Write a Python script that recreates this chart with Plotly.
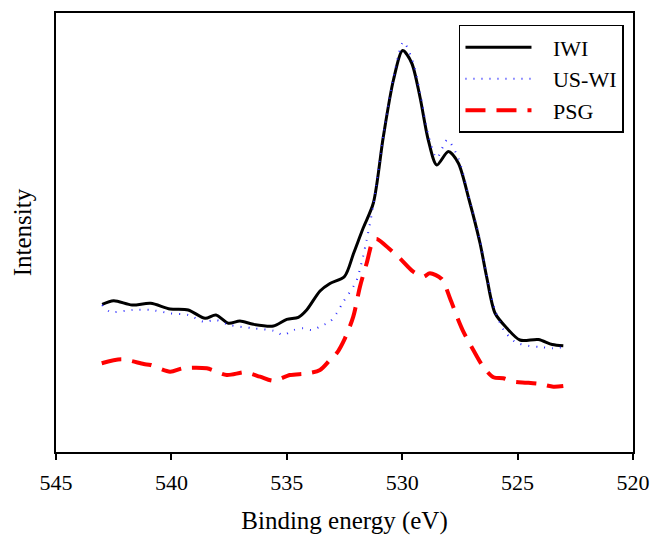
import plotly.graph_objects as go

# Binding energy (eV) and intensity (a.u.)
iwi_x = [543.0, 542.5, 541.7, 540.9, 540.06, 539.27, 538.54, 538.07, 537.53, 537.03,
         536.45, 535.58, 535.0, 534.5, 534.14, 533.56, 533.13, 532.5, 532.1, 531.69,
         531.25, 530.82, 530.38, 529.98, 529.59, 529.23, 528.87, 528.5, 528.0, 527.57,
         527.1, 526.63, 526.34, 525.98, 525.47, 524.9, 524.1, 523.5, 523.02]
iwi_y = [147.7, 151.3, 147.0, 148.7, 143.0, 142.0, 133.7, 137.0, 128.7, 131.0,
         127.7, 126.0, 132.7, 134.7, 142.0, 161.0, 168.5, 175.5, 199.0, 224.0,
         249.0, 315.0, 372.0, 401.5, 389.0, 355.0, 312.0, 287.0, 300.5, 289.0,
         252.0, 209.0, 175.0, 139.0, 124.0, 112.0, 112.5, 107.5, 106.3]

uswi_x = [543.0, 542.66, 541.7, 540.9, 540.06, 539.27, 538.6, 538.07, 537.47, 536.45,
          535.58, 535.15, 534.7, 534.28, 533.92, 533.42, 533.13, 532.84, 532.55, 532.0,
          531.75, 531.54, 531.25, 530.82, 530.38, 529.95, 529.59, 529.23, 528.87, 528.5,
          528.05, 527.57, 527.13, 526.63, 526.34, 525.98, 525.6, 525.1, 524.5, 524.0,
          523.5, 523.02]
uswi_y = [147.0, 140.3, 142.0, 142.0, 138.7, 137.0, 130.3, 132.0, 127.0, 123.7,
          121.3, 117.0, 122.0, 123.7, 122.0, 127.0, 130.3, 138.7, 150.3, 170.3,
          190.3, 212.0, 247.0, 316.0, 374.0, 410.0, 394.0, 360.0, 317.0, 294.0,
          312.0, 294.0, 257.0, 212.0, 177.0, 142.0, 122.0, 110.0, 106.0, 105.0,
          103.7, 105.0]

psg_x = [543.02, 542.16, 541.2, 540.9, 540.06, 539.5, 538.47, 537.6, 536.8, 536.16,
         535.58, 534.86, 534.14, 533.56, 533.13, 532.84, 532.48, 532.12, 531.83, 531.54,
         531.25, 531.1, 530.5, 530.1, 529.52, 529.09, 528.8, 528.29, 527.93, 527.57,
         527.35, 526.92, 526.49, 526.05, 525.62, 525.19, 524.6, 524.03, 523.45, 523.02]
psg_y = [88.7, 92.7, 88.0, 87.0, 80.3, 83.7, 83.7, 77.0, 79.7, 75.3,
         71.3, 77.0, 78.5, 82.0, 92.0, 98.7, 113.7, 135.3, 165.3, 188.7,
         212.0, 213.0, 202.0, 193.7, 180.3, 175.3, 178.7, 173.0, 153.7, 132.0,
         120.3, 102.0, 85.3, 74.7, 73.7, 70.3, 69.3, 68.0, 65.3, 66.0]

x_ticks = [545, 540, 535, 530, 525, 520]
series_names = ["IWI", "US-WI", "PSG"]

FONT = "Liberation Serif, Times New Roman, serif"
PAD = "\u00a0\u00a0\u00a0"

fig = go.Figure()
fig.add_trace(go.Scatter(x=iwi_x, y=iwi_y, name=PAD + series_names[0], mode="lines",
                         line=dict(color="black", width=3, shape="spline", smoothing=0.8)))
fig.add_trace(go.Scatter(x=uswi_x, y=uswi_y, name=PAD + series_names[1], mode="lines",
                         line=dict(color="rgb(40,40,255)", width=2, dash="1px,7px",
                                   shape="spline", smoothing=0.8)))
fig.add_trace(go.Scatter(x=psg_x, y=psg_y, name=PAD + series_names[2], mode="lines",
                         line=dict(color="red", width=4, dash="20px,11px",
                                   shape="spline", smoothing=0.8)))

fig.update_layout(
    width=651, height=536,
    margin=dict(l=56, r=18, t=13, b=84, autoexpand=False),
    paper_bgcolor="white", plot_bgcolor="white",
    font=dict(family=FONT, color="black", size=21),
    showlegend=True,
    legend=dict(x=0.6984, y=0.973, xanchor="left", yanchor="top",
                bgcolor="white", bordercolor="black", borderwidth=1.5,
                font=dict(family=FONT, size=22, color="black"),
                itemwidth=66, tracegroupgap=0),
)
fig.update_xaxes(range=[545, 520], tickvals=x_ticks, ticktext=[str(t) for t in x_ticks],
                 showgrid=False, zeroline=False, showline=True, linecolor="black",
                 linewidth=1.5, mirror=True, ticks="outside", ticklen=6, tickwidth=1.5,
                 tickcolor="black", tickfont=dict(family=FONT, size=22),
                 ticklabelstandoff=4, automargin=False,
                 title=dict(text="Binding energy (eV)", font=dict(family=FONT, size=25),
                            standoff=17))
fig.update_yaxes(range=[0, 439], showticklabels=False, ticks="", showgrid=False,
                 zeroline=False, showline=True, linecolor="black", linewidth=1.5,
                 mirror=True, automargin=False,
                 title=dict(text="Intensity", font=dict(family=FONT, size=25), standoff=16))

fig.write_html("out.html", config={"displayModeBar": False},
               post_script="document.body.style.margin='0';document.body.style.overflow='hidden';")
